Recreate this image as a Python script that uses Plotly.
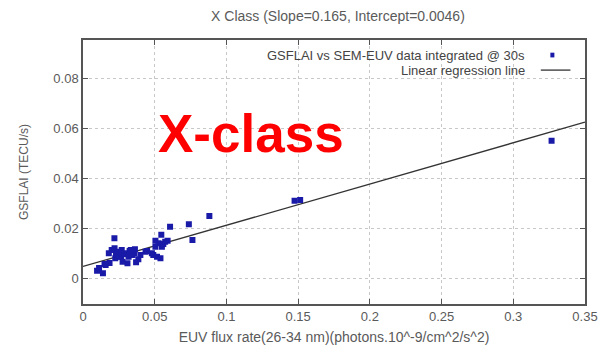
import plotly.graph_objects as go

# Integrated EUV flux vs GSFLAI samples (X-class flares)
euv_flux = [0.0098, 0.0112, 0.0139, 0.0150, 0.0158, 0.0180, 0.0185, 0.0200, 0.0219, 0.0220,
            0.0225, 0.0230, 0.0242, 0.0253, 0.0265, 0.0270, 0.0276, 0.0290, 0.0300, 0.0310,
            0.0318, 0.0325, 0.0333, 0.0345, 0.0356, 0.0362, 0.0370, 0.0386, 0.0400, 0.0436,
            0.0447, 0.0480, 0.0490, 0.0505, 0.0505, 0.0516, 0.0527, 0.0540, 0.0546, 0.0550,
            0.0560, 0.0573, 0.0590, 0.0607, 0.0738, 0.0763, 0.0881, 0.1475, 0.1514, 0.3267]
gsflai = [0.0029, 0.0040, 0.0019, 0.0056, 0.0052, 0.0099, 0.0060, 0.0112, 0.0159, 0.0119,
          0.0079, 0.0099, 0.0085, 0.0105, 0.0085, 0.0112, 0.0065, 0.0095, 0.0099, 0.0059,
          0.0085, 0.0108, 0.0112, 0.0092, 0.0099, 0.0115, 0.0063, 0.0075, 0.0092, 0.0105,
          0.0108, 0.0099, 0.0092, 0.0149, 0.0125, 0.0085, 0.0139, 0.0079, 0.0173, 0.0125,
          0.0136, 0.0145, 0.0149, 0.0205, 0.0215, 0.0152, 0.0248, 0.0309, 0.0312, 0.0549]

slope = 0.165
intercept = 0.0046
fit_x = [0.0, 0.35]
fit_y = [intercept + slope * v for v in fit_x]

x_ticks = [0, 0.05, 0.1, 0.15, 0.2, 0.25, 0.3, 0.35]
x_tick_text = ["0", "0.05", "0.1", "0.15", "0.2", "0.25", "0.3", "0.35"]
y_ticks = [0, 0.02, 0.04, 0.06, 0.08]
y_tick_text = ["0", "0.02", "0.04", "0.06", "0.08"]

series_label = "GSFLAI vs SEM-EUV data integrated @ 30s"
fit_label = "Linear regression line"

FONT = "Liberation Sans, Arial, sans-serif"
TXT = "#5a5a5a"
AX = "#555555"
MARK = "#1a1aa8"

fig = go.Figure()
fig.add_trace(go.Scatter(
    x=fit_x, y=fit_y, mode="lines",
    line=dict(color="#333333", width=1.3),
    showlegend=False, hoverinfo="skip"))
fig.add_trace(go.Scatter(
    x=euv_flux, y=gsflai, mode="markers",
    marker=dict(symbol="square", size=6, color=MARK, line=dict(width=0)),
    showlegend=False))

axis_common = dict(
    showline=True, linecolor=AX, linewidth=1.5, mirror="ticks",
    ticks="inside", ticklen=5, tickcolor=AX, tickwidth=1,
    showgrid=True, gridcolor="#c8c8c8", griddash="dot", gridwidth=1,
    zeroline=False,
    tickfont=dict(family=FONT, size=13, color=TXT),
)
fig.update_xaxes(
    range=[0, 0.35], tickvals=x_ticks, ticktext=x_tick_text,
    title=dict(text="EUV flux rate(26-34 nm)(photons.10^-9/cm^2/s^2)",
               font=dict(family=FONT, size=14, color=TXT), standoff=9),
    **axis_common)
fig.update_yaxes(
    range=[-0.0104, 0.0952], tickvals=y_ticks, ticktext=y_tick_text,
    title=dict(text="GSFLAI (TECU/s)",
               font=dict(family=FONT, size=12, color=TXT), standoff=22),
    **axis_common)

# Legend, drawn text-right with sample on the right (gnuplot style)
fig.add_annotation(xref="paper", yref="paper", x=0.884, y=0.943,
                   text=series_label, showarrow=False, xanchor="right", yanchor="middle",
                   font=dict(family=FONT, size=13, color="#444444"))
fig.add_annotation(xref="paper", yref="paper", x=0.884, y=0.886,
                   text=fit_label, showarrow=False, xanchor="right", yanchor="middle",
                   font=dict(family=FONT, size=13, color="#444444"))
fig.add_shape(type="rect", xref="paper", yref="paper",
              x0=0.931, x1=0.939, y0=0.934, y1=0.952,
              fillcolor=MARK, line=dict(width=0))
fig.add_shape(type="line", xref="paper", yref="paper",
              x0=0.912, x1=0.971, y0=0.886, y1=0.886,
              line=dict(color="#333333", width=1.3))

# Class label
fig.add_annotation(xref="paper", yref="paper", x=0.145, y=0.644,
                   text="<b>X-class</b>", showarrow=False,
                   xanchor="left", yanchor="middle",
                   font=dict(family=FONT, size=53, color="#ff0000"))

fig.update_layout(
    width=610, height=358,
    margin=dict(l=83, r=17, t=40, b=54),
    paper_bgcolor="white", plot_bgcolor="white",
    title=dict(text="X Class (Slope=0.165, Intercept=0.0046)",
               x=0.554, xanchor="center", y=0.955, yanchor="middle",
               font=dict(family=FONT, size=14, color=TXT)),
    showlegend=False,
)

fig.write_html("out.html")
